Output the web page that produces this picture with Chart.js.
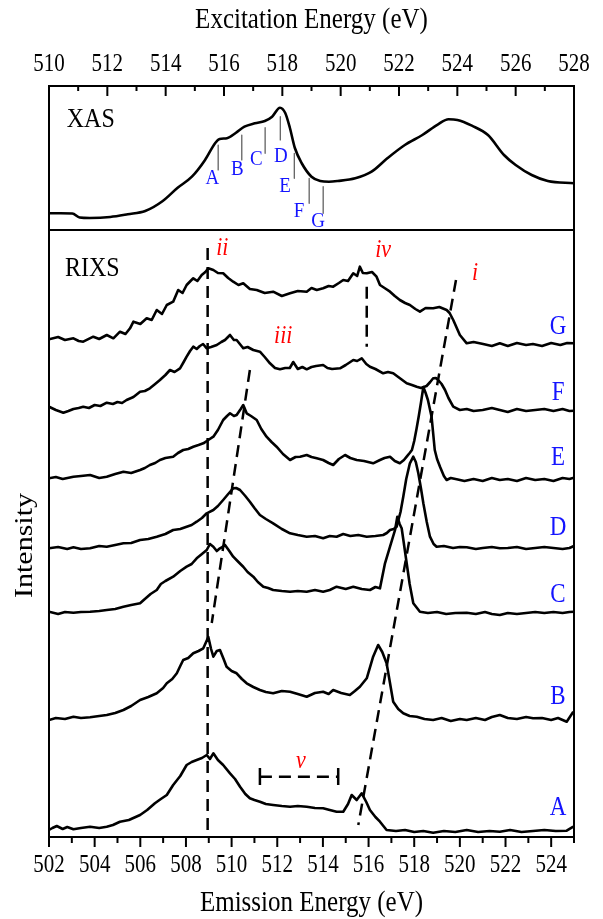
<!DOCTYPE html>
<html><head><meta charset="utf-8">
<script src="https://cdn.jsdelivr.net/npm/chart.js@4/dist/chart.umd.min.js"></script>
<style>
html,body{margin:0;padding:0;background:#fff;}
#wrap{position:relative;width:603px;height:919px;background:#fff;}
canvas{position:absolute;left:0;top:0;}
</style></head><body>
<div id="wrap"><canvas id="c1" width="603" height="919"></canvas><canvas id="c2" width="603" height="919"></canvas></div>
<script>
// ---------- DATA ----------
const xasTicks = [510,512,514,516,518,520,522,524,526,528];
const xasMinor = [511,513,515,517,519,521,523,525,527];
const rixsTicks = [502,504,506,508,510,512,514,516,518,520,522,524];
const rixsMinor = [503,505,507,509,511,513,515,517,519,521,523,525];

// XAS spectrum: [excitation energy (eV), intensity]
const xas = [[510.0,16.7],[510.4,16.7],[510.8,16.5],[511.05,12.5],[511.4,12],[512.1,13],[512.7,15.7],[513.3,19],[513.9,29],[514.4,42],[514.9,53.3],[515.35,70],[515.7,87],[515.85,91],[516.1,91.7],[516.4,97],[516.7,103.3],[517.06,106.7],[517.4,109],[517.65,113.3],[517.92,122.3],[518.1,117],[518.26,102],[518.43,82],[518.66,67],[519.0,53.3],[519.3,49],[519.6,48.3],[519.9,49],[520.5,51.7],[521.06,58.3],[521.6,71.7],[522.2,85],[522.8,95],[523.34,105.7],[523.7,110.7],[524.0,110],[524.5,104.3],[525.05,95],[525.6,75],[526.0,65],[526.55,55],[527.1,49],[528.0,46.7]];

// excitation energies A..G marked on XAS: [energy, top, bottom]
const xasMarkNames = ['A','B','C','D','E','F','G'];
const xasMarks = [[515.80,85,60],[516.61,95,70],[517.41,102.3,76.7],[517.93,113.3,90],[518.41,76.7,51.7],[518.92,51.7,26.7],[519.40,43.3,16.7]];
const xasMarkLabels = [[515.6,53.3],[516.46,62.3],[517.11,72.7],[517.95,75],[518.09,45],[518.57,20.7],[519.23,10]];

// RIXS spectra (emission energy, offset intensity)
const specG = [[502.0,494.7],[502.4,497],[502.7,494],[503.07,495.7],[503.3,493],[503.5,492.3],[503.94,497.3],[504.2,495],[504.53,499],[504.82,495.7],[505.11,502.3],[505.35,500],[505.55,505.7],[505.7,512.3],[506.0,510],[506.28,515.7],[506.5,514],[506.72,524],[506.95,520],[507.16,529],[507.44,532.3],[507.66,544],[507.85,541],[508.03,549],[508.2,553],[508.32,555.7],[508.5,553],[508.69,559],[508.85,562],[508.98,565.7],[509.2,564],[509.4,561],[509.63,560.7],[509.85,556],[510.07,552.3],[510.3,549],[510.51,550.7],[510.8,545],[511.1,544],[511.45,541],[511.82,542.3],[512.2,538],[512.56,540.7],[512.9,543],[513.29,542.3],[513.5,546],[513.73,544],[514.01,545.7],[514.25,548],[514.45,547.3],[514.7,551],[514.89,554],[515.1,553],[515.33,560.7],[515.5,558],[515.62,567.3],[515.75,561],[515.92,560.7],[516.15,562],[516.35,557.3],[516.5,549],[516.7,546],[516.94,542.3],[517.15,538],[517.37,534],[517.6,531],[517.81,529],[518.05,525],[518.25,522.3],[518.5,526],[518.83,525.7],[519.1,527],[519.42,524],[519.55,521],[519.71,514],[520.0,499],[520.3,490.7],[520.6,492],[521.02,490],[521.4,488],[521.75,490.7],[522.1,488],[522.5,491],[522.9,489],[523.2,490],[523.6,488],[524.0,491],[524.4,489],[524.7,491],[525.0,490.7]];
const specF = [[502.0,427.3],[502.3,424],[502.63,421.3],[502.85,423],[503.07,425],[503.3,426],[503.5,427.3],[503.75,426],[504.0,429],[504.25,428],[504.53,431.3],[504.8,430],[505.0,432],[505.2,431],[505.4,434],[505.7,437],[505.99,442.3],[506.2,443],[506.42,445.7],[506.65,450],[506.86,454],[507.1,459],[507.3,464],[507.5,462],[507.74,465.7],[507.9,472],[508.03,477.3],[508.18,483],[508.32,487.3],[508.47,485],[508.61,488],[508.75,490],[508.91,485.7],[509.1,487],[509.35,489],[509.55,492],[509.71,494],[509.93,499],[510.1,494],[510.22,494],[510.51,485.7],[510.7,487],[510.95,484],[511.24,482.3],[511.45,477],[511.68,470.7],[511.9,466],[512.12,464.7],[512.35,466],[512.55,466],[512.7,472],[512.9,465],[513.1,467],[513.29,464.7],[513.5,467],[513.7,468],[514.01,469],[514.2,466],[514.4,465],[514.75,465.7],[515.0,469],[515.2,472],[515.33,474],[515.5,473],[515.7,475.7],[515.9,470],[516.06,467.3],[516.3,465],[516.64,460.7],[516.85,462],[517.08,460.7],[517.3,457],[517.67,450.7],[517.9,449],[518.11,447.3],[518.3,446],[518.54,448],[518.7,452],[518.83,455.7],[518.95,456],[519.05,454],[519.2,450],[519.35,444],[519.5,436],[519.71,427.3],[520.0,424],[520.3,425],[520.6,423],[521.0,424],[521.4,426],[521.75,424],[522.1,422],[522.5,425],[522.9,423],[523.3,424],[523.7,425],[524.1,423],[524.5,425],[524.8,423],[525.0,423.3]];
const specE = [[502.0,355.7],[502.3,357],[502.6,355],[503.07,357.3],[503.4,358],[503.8,359],[504.2,356],[504.53,357.3],[504.9,360],[505.26,362.3],[505.6,361],[505.99,364],[506.2,366],[506.42,369],[506.65,371],[506.86,374],[507.1,376],[507.44,377.3],[507.65,381],[507.88,384],[508.1,385],[508.32,387.3],[508.55,389],[508.76,390.7],[508.98,394],[509.2,397.3],[509.4,404],[509.63,414],[509.8,418],[509.93,420.7],[510.1,418],[510.22,419],[510.4,425],[510.51,429],[510.66,420.7],[510.85,418],[511.1,414],[511.3,405],[511.53,397.3],[511.75,392],[511.97,387.3],[512.25,380],[512.56,374],[512.8,377],[513.0,377.3],[513.29,379],[513.5,377],[513.73,375.7],[514.01,374],[514.25,371],[514.45,369],[514.7,375],[514.97,379],[515.2,376],[515.48,374],[515.8,373],[516.2,370.7],[516.5,374],[516.7,376],[516.94,377.3],[517.15,373],[517.37,370.7],[517.55,374],[517.67,377.3],[517.8,381],[517.9,384],[518.0,393],[518.1,405],[518.2,418],[518.3,432],[518.4,447],[518.5,441],[518.6,434],[518.76,417.3],[518.9,384],[519.0,375],[519.13,367.3],[519.3,358],[519.42,354],[519.6,356],[519.86,354.7],[520.2,353],[520.6,355],[521.0,353],[521.4,356],[521.75,354],[522.1,355],[522.5,353],[522.9,356],[523.3,354],[523.7,355],[524.1,353],[524.5,356],[524.8,355],[525.0,356.3]];
const specD = [[502.0,285.7],[502.4,287],[502.8,285],[503.07,286.7],[503.4,285],[503.8,285.7],[504.2,288],[504.53,287.3],[504.9,289],[505.26,290.7],[505.6,291],[505.99,294],[506.35,295],[506.72,297.3],[507.1,300],[507.44,304],[507.75,305],[508.03,307.3],[508.25,309],[508.47,312.3],[508.7,316],[508.91,320.7],[509.2,324],[509.4,328],[509.63,334],[509.85,340],[510.07,345.7],[510.2,346],[510.37,344],[510.6,338],[510.8,332.3],[511.0,326],[511.24,319],[511.5,315],[511.82,310.7],[512.2,305],[512.56,300.7],[512.9,299],[513.29,297.3],[513.65,298],[514.01,295.7],[514.3,298],[514.6,297.3],[514.89,300],[515.2,298],[515.55,299],[515.92,297.3],[516.3,298],[516.64,299],[516.8,301],[516.94,304],[517.1,305],[517.23,307.3],[517.4,322],[517.52,337.3],[517.65,355],[517.81,370.7],[517.96,377.3],[518.07,372],[518.18,360.7],[518.3,345],[518.4,330.7],[518.55,312],[518.69,297.3],[518.85,290],[518.98,287.3],[519.3,288],[519.7,286],[520.0,287],[520.3,286.7],[520.7,285],[521.0,286],[521.4,287],[521.75,285.7],[522.1,286],[522.5,287],[522.9,285],[523.3,286],[523.7,287],[524.1,286],[524.5,285],[524.8,286],[525.0,288]];
const specC = [[502.0,222.3],[502.4,220],[502.7,222],[503.07,221.3],[503.4,222],[503.8,222.3],[504.2,223],[504.53,224],[504.9,225],[505.26,227.3],[505.6,229],[505.99,230.7],[506.2,235],[506.45,240],[506.72,244],[506.9,250],[507.1,253],[507.44,257.3],[507.75,263],[508.03,267.3],[508.25,270],[508.47,275.7],[508.7,280],[508.91,284],[509.05,290],[509.2,287.3],[509.35,283],[509.49,285.7],[509.6,287],[509.71,289],[509.9,283],[510.07,277.3],[510.3,272],[510.51,267.3],[510.7,262],[510.95,257.3],[511.15,252],[511.39,247.3],[511.6,246],[511.82,244],[512.2,243],[512.56,242.3],[512.9,243],[513.29,242.3],[513.65,244],[514.01,242.3],[514.3,244],[514.6,247.3],[515.0,245],[515.33,247.3],[515.7,245],[516.06,244],[516.3,247],[516.5,245.7],[516.72,270.7],[516.94,287.3],[517.16,304],[517.26,317.3],[517.36,310],[517.45,305.7],[517.55,290],[517.67,270.7],[517.8,250],[517.96,230.7],[518.25,222.3],[518.6,221],[519.0,222],[519.4,220],[519.8,221],[520.3,221.3],[520.7,220],[521.1,222],[521.4,220],[521.75,219],[522.1,221],[522.5,220],[522.9,221],[523.3,222],[523.7,221],[524.1,222],[524.5,221],[524.8,222],[525.0,222.3]];
const specB = [[502.0,114],[502.3,116],[502.7,115],[503.07,117.3],[503.4,116],[503.8,116.7],[504.2,118],[504.53,119],[504.9,121],[505.26,124],[505.6,128],[505.99,134],[506.35,137],[506.72,140.7],[507.0,146],[507.16,150.7],[507.4,155],[507.6,160.7],[507.75,168],[507.88,174],[508.1,176],[508.32,180.7],[508.55,183],[508.76,185.7],[508.98,197],[509.1,185],[509.2,177.3],[509.35,183],[509.49,184],[509.65,175],[509.78,167.3],[510.0,163],[510.22,160.7],[510.45,155],[510.66,150.7],[510.95,147],[511.24,144],[511.5,142],[511.82,140.7],[512.2,143],[512.56,142.3],[512.9,140],[513.29,137.3],[513.65,141],[514.01,142.3],[514.25,140],[514.45,144],[514.8,141],[515.18,139],[515.4,143],[515.62,147.3],[515.92,155.7],[516.2,177.3],[516.42,189],[516.6,182],[516.79,170.7],[517.08,132.3],[517.3,125],[517.52,120.7],[517.8,118],[518.11,117.3],[518.45,115],[518.83,114],[519.2,116],[519.6,113],[520.0,115],[520.3,114],[520.7,116],[521.1,114],[521.4,117],[521.75,119],[522.1,116],[522.5,115],[522.9,117],[523.21,115.7],[523.6,116],[524.0,114],[524.3,116],[524.68,112.3],[524.97,122.3]];
const specA = [[502.0,4],[502.15,6],[502.34,8],[502.6,5],[502.8,7],[503.07,4.7],[503.4,6],[503.8,7.3],[504.2,6],[504.53,7.3],[504.8,9],[505.11,12.3],[505.5,14],[505.99,19],[506.3,24],[506.64,30.7],[506.9,35],[507.16,39],[507.44,49],[507.75,58],[508.03,69],[508.25,72],[508.47,74],[508.7,76],[508.91,79],[509.05,75],[509.2,80.7],[509.4,74],[509.63,69],[509.93,60.7],[510.15,55],[510.37,47.3],[510.6,40],[510.8,35.7],[511.0,34],[511.24,32.3],[511.5,30],[511.82,29],[512.2,28],[512.56,27.3],[512.9,28],[513.29,27.3],[513.65,26],[514.01,25.7],[514.3,24],[514.6,22.3],[514.89,22.3],[515.1,30],[515.26,39],[515.48,34],[515.7,40.7],[515.9,32],[516.06,24],[516.3,17],[516.5,12.3],[516.79,4],[517.2,3],[517.6,4],[518.0,2],[518.4,3],[518.83,1.3],[519.3,3],[519.8,2],[520.3,4],[520.8,2],[521.3,3],[521.75,2.3],[522.2,4],[522.7,2],[523.2,3],[523.7,4],[524.2,3],[524.68,3.3],[524.97,7.3]];

const spectraNames = ['A','B','C','D','E','F','G'];
const spectraLabelPos = [[524.3,27.3],[524.3,139],[524.3,240.7],[524.3,307.3],[524.3,377.3],[524.3,442.3],[524.3,509]];

// feature guide lines (dashed)
const guideI   = [[519.83,554],[515.55,9]];
const guideII  = [[508.95,586],[508.95,-3]];
const guideIII = [[510.8,464],[509.13,211]];
const guideIV  = [[515.92,547.3],[515.92,487.3]];
const guideV   = [[511.24,57.3],[514.67,57.3]];
const guideVcapL = [[511.24,49],[511.24,66]];
const guideVcapR = [[514.67,49],[514.67,66]];
const featureNames = ['i','ii','iii','iv','v'];
const featureLabelPos = [[520.66,562.3],[509.59,587.3],[512.26,499],[516.64,585.7],[513.04,74.7]];

// ---------- RENDERING ----------
const SERIF = '"Liberation Serif", "Times New Roman", serif';
Chart.defaults.font.family = SERIF;
Chart.defaults.color = '#000';
const BLUE = '#1414ff', RED = '#ff0000';
const SY = 1.15;            // vertical stretch of the reference lettering
const pts = arr => arr.map(p => ({x:p[0], y:p[1]}));
const lineDs = (arr, extra) => Object.assign({data: pts(arr), showLine:true, borderColor:'#000', borderWidth:2.6, pointRadius:0, borderJoinStyle:'round', fill:false}, extra||{});

function drawTicks(ctx, scale, y0, major, minor, lenMajor, lenMinor) {
  ctx.save(); ctx.strokeStyle = '#000'; ctx.lineWidth = 2;
  major.forEach(v => { const x = scale.getPixelForValue(v); ctx.beginPath(); ctx.moveTo(x, y0); ctx.lineTo(x, y0 + lenMajor); ctx.stroke(); });
  minor.forEach(v => { const x = scale.getPixelForValue(v); ctx.beginPath(); ctx.moveTo(x, y0); ctx.lineTo(x, y0 + lenMinor); ctx.stroke(); });
  ctx.restore();
}
function drawFrame(ctx, a) {
  ctx.save(); ctx.strokeStyle = '#000'; ctx.lineWidth = 2;
  ctx.strokeRect(a.left, a.top, a.right - a.left, a.bottom - a.top); ctx.restore();
}
// text with its baseline at y (or centred on cap height when mid=true)
function text(ctx, s, x, y, size, o) {
  o = o || {};
  const sy = o.sy || SY;
  ctx.save();
  ctx.font = (o.italic ? 'italic ' : '') + size + 'px ' + SERIF;
  ctx.fillStyle = o.color || '#000';
  ctx.textAlign = o.align || 'center';
  ctx.textBaseline = 'alphabetic';
  const by = o.mid ? y + 0.331 * size * sy : y;
  ctx.translate(x, by); ctx.scale(1, sy);
  ctx.fillText(s, 0, 0);
  ctx.restore();
}

// XAS panel
const xasDatasets = [lineDs(xas, {cubicInterpolationMode:'monotone'})];
xasMarks.forEach(m => xasDatasets.push(lineDs([[m[0], m[1]], [m[0], m[2]]], {borderColor:'#555', borderWidth:1.2})));

new Chart(document.getElementById('c1'), {
  type: 'scatter',
  data: {datasets: xasDatasets},
  options: {
    responsive:false, animation:false, devicePixelRatio:1,
    layout:{padding:{left:49, right:29, top:86, bottom:689}},
    plugins:{legend:{display:false}, tooltip:{enabled:false}},
    scales:{
      x:{type:'linear', min:510, max:528, display:false},
      y:{min:0, max:144, display:false}
    }
  },
  plugins:[{id:'xasDecor', afterDraw(chart){
    const ctx = chart.ctx, a = chart.chartArea, sx = chart.scales.x, sy = chart.scales.y;
    drawFrame(ctx, a);
    drawTicks(ctx, sx, a.top, xasTicks, xasMinor, 10, 5);
    xasTicks.forEach(v => text(ctx, String(v), sx.getPixelForValue(v), 71, 21));
    text(ctx, 'Excitation Energy (eV)', (a.left + a.right) / 2, 28, 25);
    text(ctx, 'XAS', sx.getPixelForValue(510.61), sy.getPixelForValue(111.7), 24, {align:'left', mid:true});
    xasMarkNames.forEach((n, i) => text(ctx, n, sx.getPixelForValue(xasMarkLabels[i][0]), sy.getPixelForValue(xasMarkLabels[i][1]), 19, {color:BLUE, mid:true}));
  }}]
});

// RIXS panel
const dash = {borderDash:[12,7], borderWidth:2.5, borderCapStyle:'butt'};
const rixsDatasets = [specA, specB, specC, specD, specE, specF, specG].map(s => lineDs(s));
[guideI, guideII, guideIII, guideIV, guideV].forEach(g => rixsDatasets.push(lineDs(g, dash)));
[guideVcapL, guideVcapR].forEach(g => rixsDatasets.push(lineDs(g, {borderWidth:2.5})));

new Chart(document.getElementById('c2'), {
  type: 'scatter',
  data: {datasets: rixsDatasets},
  options: {
    responsive:false, animation:false, devicePixelRatio:1,
    layout:{padding:{left:49, right:29, top:230, bottom:82}},
    plugins:{legend:{display:false}, tooltip:{enabled:false}},
    scales:{
      x:{type:'linear', min:502, max:525, display:false},
      y:{min:-3, max:604, display:false}
    }
  },
  plugins:[{id:'rixsDecor', afterDraw(chart){
    const ctx = chart.ctx, a = chart.chartArea, sx = chart.scales.x, sy = chart.scales.y;
    drawFrame(ctx, a);
    drawTicks(ctx, sx, a.bottom, rixsTicks, rixsMinor, 10, 6);
    rixsTicks.forEach(v => text(ctx, String(v), sx.getPixelForValue(v), 871.5, 21));
    text(ctx, 'Emission Energy (eV)', (a.left + a.right) / 2, 911, 25);
    // y-axis title (rotated)
    ctx.save(); ctx.translate(31.5, (a.top + a.bottom) / 2 + 12); ctx.rotate(-Math.PI / 2); ctx.scale(1.2, 1);
    ctx.font = '25px ' + SERIF; ctx.fillStyle = '#000'; ctx.textAlign = 'center'; ctx.textBaseline = 'alphabetic';
    ctx.fillText('Intensity', 0, 0); ctx.restore();
    text(ctx, 'RIXS', sx.getPixelForValue(502.7), sy.getPixelForValue(567.3), 24, {align:'left', mid:true});
    spectraNames.forEach((n, i) => text(ctx, n, sx.getPixelForValue(spectraLabelPos[i][0]), sy.getPixelForValue(spectraLabelPos[i][1]), 23, {color:BLUE, mid:true}));
    featureNames.forEach((n, i) => text(ctx, n, sx.getPixelForValue(featureLabelPos[i][0]), sy.getPixelForValue(featureLabelPos[i][1]), 22, {color:RED, italic:true, mid:true}));
  }}]
});
</script>
</body></html>
